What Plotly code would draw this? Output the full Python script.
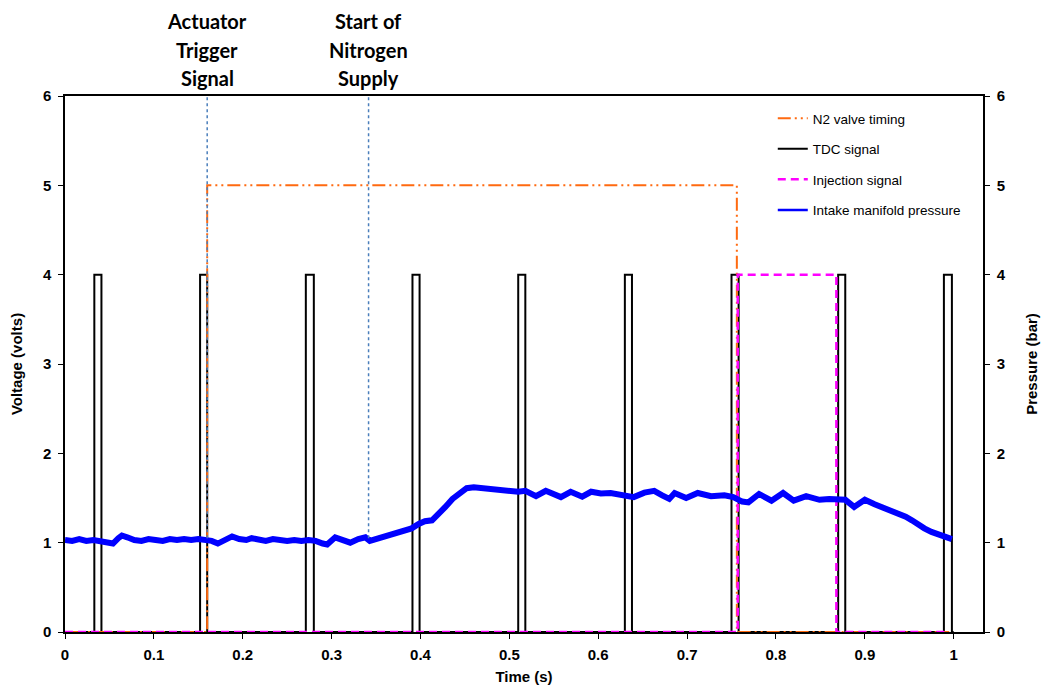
import plotly.graph_objects as go

# ---------------- data ----------------
# TDC signal pulses (start / end times, s) and level (V)
tdc_start = [0.033, 0.152, 0.271, 0.391, 0.510, 0.630, 0.750, 0.870, 0.989]
tdc_end = [0.041, 0.160, 0.280, 0.399, 0.518, 0.638, 0.758, 0.878, 0.998]
tdc_high = 4
tdc_last_time = 1.0

# N2 valve timing (step signal)
n2_time = [0.0, 0.160, 0.160, 0.756, 0.756, 0.995]
n2_volt = [0, 0, 5, 5, 0, 0]

# Injection signal (step signal)
inj_time = [0.0, 0.757, 0.757, 0.868, 0.868, 0.995]
inj_volt = [0, 0, 4, 4, 0, 0]

# Intake manifold pressure (bar)
p_time = [0.000, 0.008, 0.016, 0.024, 0.032, 0.040, 0.048, 0.054, 0.060, 0.064,
          0.070, 0.078, 0.086, 0.094, 0.102, 0.110, 0.118, 0.126, 0.134, 0.142,
          0.150, 0.158, 0.165, 0.172, 0.180, 0.188, 0.196, 0.204, 0.210, 0.218,
          0.226, 0.234, 0.242, 0.250, 0.258, 0.266, 0.274, 0.282, 0.290, 0.295,
          0.304, 0.312, 0.321, 0.330, 0.338, 0.343, 0.350, 0.360, 0.370, 0.380,
          0.390, 0.398, 0.405, 0.413, 0.420, 0.428, 0.436, 0.445, 0.452, 0.460,
          0.470, 0.480, 0.490, 0.500, 0.510, 0.518, 0.530, 0.541, 0.550, 0.558,
          0.569, 0.582, 0.592, 0.603, 0.614, 0.625, 0.631, 0.640, 0.652, 0.663,
          0.672, 0.680, 0.686, 0.699, 0.712, 0.727, 0.742, 0.752, 0.762, 0.769,
          0.781, 0.795, 0.808, 0.820, 0.834, 0.849, 0.860, 0.870, 0.878, 0.888,
          0.900, 0.911, 0.922, 0.930, 0.938, 0.946, 0.953, 0.960, 0.967, 0.975,
          0.983, 0.990, 0.998]
p_bar = [1.03, 1.02, 1.04, 1.02, 1.03, 1.01, 1.00, 0.99, 1.05, 1.08,
         1.06, 1.03, 1.02, 1.04, 1.03, 1.02, 1.04, 1.03, 1.04, 1.03,
         1.04, 1.03, 1.02, 0.99, 1.03, 1.07, 1.04, 1.03, 1.05, 1.03,
         1.02, 1.04, 1.03, 1.02, 1.03, 1.02, 1.03, 1.02, 0.99, 0.98,
         1.06, 1.03, 1.00, 1.04, 1.06, 1.02, 1.04, 1.07, 1.09, 1.12,
         1.16, 1.21, 1.24, 1.25, 1.31, 1.40, 1.49, 1.57, 1.61, 1.62,
         1.61, 1.60, 1.59, 1.58, 1.57, 1.58, 1.52, 1.58, 1.55, 1.51,
         1.57, 1.515, 1.57, 1.55, 1.556, 1.54, 1.52, 1.51, 1.56, 1.58,
         1.53, 1.49, 1.556, 1.50, 1.556, 1.52, 1.53, 1.51, 1.46, 1.45,
         1.545, 1.47, 1.556, 1.47, 1.52, 1.48, 1.49, 1.48, 1.48, 1.40,
         1.48, 1.43, 1.39, 1.36, 1.33, 1.29, 1.25, 1.20, 1.16, 1.12,
         1.09, 1.06, 1.04]

# Event markers
event_times = [0.160, 0.3416]
event_labels = [["Actuator", "Trigger", "Signal"], ["Start of", "Nitrogen", "Supply"]]
event_line_bottom = 1.05

x_ticks = [0, 0.1, 0.2, 0.3, 0.4, 0.5, 0.6, 0.7, 0.8, 0.9, 1]
x_tick_text = ["0", "0.1", "0.2", "0.3", "0.4", "0.5", "0.6", "0.7", "0.8", "0.9", "1"]
y_ticks = [0, 1, 2, 3, 4, 5, 6]

# ---------------- build step series for TDC ----------------
tdc_t = [0.0]
tdc_v = [0]
for s, e in zip(tdc_start, tdc_end):
    tdc_t += [s, s, e, e]
    tdc_v += [0, tdc_high, tdc_high, 0]
tdc_t.append(tdc_last_time)
tdc_v.append(0)

fig = go.Figure()

fig.add_trace(go.Scatter(x=tdc_t, y=tdc_v, mode="lines", name="TDC signal",
                         line=dict(color="black", width=2), legendrank=2,
                         legendgroup="b"))
fig.add_trace(go.Scatter(x=n2_time, y=n2_volt, mode="lines", name="N2 valve timing",
                         line=dict(color="#FF6A10", width=2,
                                   dash="13px,4px,2px,4px,2px,4px"),
                         legendrank=1, legendgroup="a"))
fig.add_trace(go.Scatter(x=inj_time, y=inj_volt, mode="lines", name="Injection signal",
                         line=dict(color="#FF00FF", width=2.5, dash="8px,5px"),
                         legendrank=3, legendgroup="c"))
fig.add_trace(go.Scatter(x=p_time, y=p_bar, mode="lines", name="Intake manifold pressure",
                         line=dict(color="#0000FF", width=6), yaxis="y2",
                         showlegend=False, legendgroup="d"))
# legend entry (thin sample line as in the reference legend)
fig.add_trace(go.Scatter(x=[None], y=[None], mode="lines", name="Intake manifold pressure",
                         line=dict(color="#0000FF", width=2.5), yaxis="y2",
                         legendrank=4, legendgroup="d"))

# event lines and labels
plot_top_px = 96
plot_h_px = 536
line_px = [21, 50, 78]
for t, lab in zip(event_times, event_labels):
    fig.add_shape(type="line", x0=t, x1=t, y0=event_line_bottom, y1=6,
                  xref="x", yref="y",
                  line=dict(color="#4A7EBB", width=1.5, dash="dot"))
    for txt, py in zip(lab, line_px):
        fig.add_annotation(x=t, y=1 + (plot_top_px - py) / plot_h_px, xref="x", yref="paper",
                           text="<b>" + txt + "</b>", showarrow=False,
                           xanchor="center", yanchor="middle",
                           font=dict(family="Lato", size=20, color="black"))

axis_font = dict(family="Liberation Sans", size=15, color="black")
title_font = dict(family="Liberation Sans", size=15, color="black")

fig.update_layout(
    width=1041, height=686,
    margin=dict(l=65, r=58, t=96, b=54, autoexpand=False),
    paper_bgcolor="white", plot_bgcolor="white",
    showlegend=True,
    legend=dict(x=0.771, y=0.987, xanchor="left", yanchor="top",
                bgcolor="rgba(0,0,0,0)", borderwidth=0,
                font=dict(family="Liberation Sans", size=13.5, color="black"),
                traceorder="grouped", tracegroupgap=10, itemwidth=30),
    xaxis=dict(range=[0, 1.033], tickvals=x_ticks, ticktext=["<b>%s</b>" % s for s in x_tick_text],
               showline=True, linecolor="black", linewidth=1.5, mirror=True,
               ticks="outside", ticklen=5, tickcolor="black", tickwidth=1,
               showgrid=False, zeroline=False, tickfont=axis_font, automargin=False,
               ticklabelstandoff=3, layer="below traces",
               title=dict(text="<b>Time (s)</b>", font=title_font, standoff=10)),
    yaxis=dict(range=[0, 6], tickvals=y_ticks, ticktext=["<b>%d</b>" % v for v in y_ticks],
               showline=True, linecolor="black", linewidth=1.5,
               ticks="outside", ticklen=5, tickcolor="black", tickwidth=1,
               showgrid=False, zeroline=False, tickfont=axis_font, automargin=False,
               ticklabelstandoff=4, layer="below traces",
               title=dict(text="<b>Voltage (volts)</b>", font=title_font, standoff=17)),
    yaxis2=dict(range=[0, 6], tickvals=y_ticks, ticktext=["<b>%d</b>" % v for v in y_ticks],
                overlaying="y", side="right",
                showline=True, linecolor="black", linewidth=1.5,
                ticks="outside", ticklen=5, tickcolor="black", tickwidth=1,
                showgrid=False, zeroline=False, tickfont=axis_font, automargin=False,
                ticklabelstandoff=4, layer="below traces",
                title=dict(text="<b>Pressure (bar)</b>", font=title_font, standoff=22)),
)

fig.write_html("out.html", post_script="document.body.style.margin='0';",
               config={"displayModeBar": False})
